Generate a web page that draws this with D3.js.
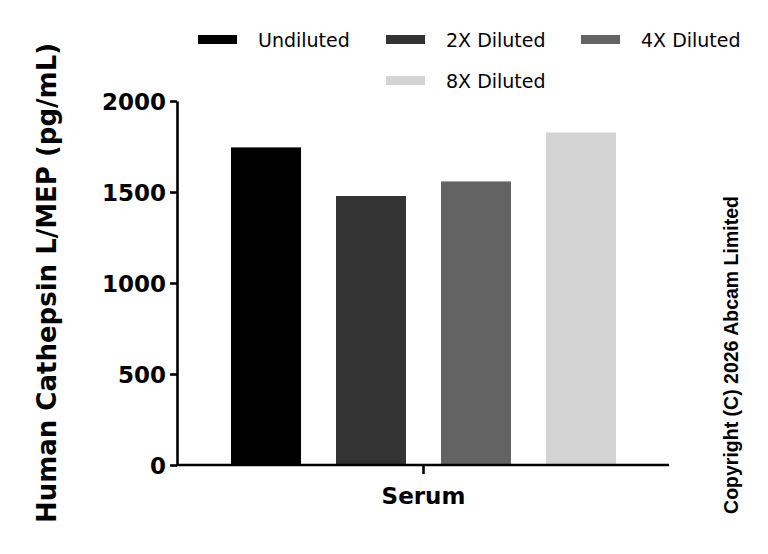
<!DOCTYPE html>
<html><head><meta charset="utf-8">
<script src="https://cdn.jsdelivr.net/npm/d3@7"></script>
<style>body{margin:0;background:#fff}svg{display:block}</style>
</head><body>
<svg id="c" width="768" height="554"></svg>
<script>
const categories = ["Serum"];
const seriesNames = ["Undiluted", "2X Diluted", "4X Diluted", "8X Diluted"];
const seriesValues = [1745, 1478, 1558, 1827];
const seriesColors = ["#000000", "#333333", "#636363", "#d4d4d4"];
const yTicks = [0, 500, 1000, 1500, 2000];
const yTitle = "Human Cathepsin L/MEP (pg/mL)";
const copyright = "Copyright (C) 2026 Abcam Limited";

const svg = d3.select("#c");
const font = "'DejaVu Sans', sans-serif";

const y = d3.scaleLinear().domain([0, 2000]).range([465, 101]);
const x0 = d3.scaleBand().domain(categories).range([178, 669]).paddingOuter(0.1377).paddingInner(0);
const x1 = d3.scaleBand().domain(seriesNames).range([0, x0.bandwidth()]).paddingInner(1/3).paddingOuter(0);

// bars
const g = svg.append("g");
categories.forEach(cat => {
  g.selectAll("rect.bar").data(seriesNames).enter().append("rect")
    .attr("x", d => x0(cat) + x1(d))
    .attr("y", (d, i) => y(seriesValues[i]))
    .attr("width", x1.bandwidth())
    .attr("height", (d, i) => y(0) - y(seriesValues[i]))
    .attr("fill", (d, i) => seriesColors[i]);
});

// y axis
const yAxis = svg.append("g").attr("transform", "translate(177,0)")
  .call(d3.axisLeft(y).tickValues(yTicks).tickSize(7).tickPadding(4).tickSizeOuter(0).tickFormat(d3.format("d")));
yAxis.select(".domain").attr("stroke", "#000").attr("stroke-width", 2.6);
yAxis.selectAll(".tick line").attr("stroke", "#000").attr("stroke-width", 2.6);
yAxis.selectAll(".tick text").attr("font-family", font).attr("font-weight", "bold")
  .attr("font-size", 23).attr("fill", "#000").attr("dy", "0.36em");

// x axis
const xAxis = svg.append("g").attr("transform", `translate(0,${y(0)})`)
  .call(d3.axisBottom(x0).tickSize(9).tickSizeOuter(0).tickPadding(14));
xAxis.select(".domain").attr("stroke", "#000").attr("stroke-width", 2.6)
  .attr("d", `M177,0H669`);
xAxis.selectAll(".tick line").attr("stroke", "#000").attr("stroke-width", 2.6);
xAxis.selectAll(".tick text").attr("font-family", font).attr("font-weight", "bold")
  .attr("font-size", 23).attr("fill", "#000");

// y title
svg.append("text")
  .attr("transform", "translate(56,283) rotate(-90)")
  .attr("text-anchor", "middle")
  .attr("font-family", font).attr("font-weight", "bold").attr("font-size", 26)
  .attr("fill", "#000")
  .text(yTitle);

// copyright
svg.append("text")
  .attr("transform", "translate(738,355) rotate(-90)")
  .attr("text-anchor", "middle")
  .attr("font-family", "'Liberation Sans', Arial, sans-serif").attr("font-weight", "bold").attr("font-size", 19.5)
  .attr("fill", "#000")
  .text(copyright);

// legend
const legendPos = [[198, 40], [386, 40], [581, 40], [386, 81]];
const lg = svg.append("g");
seriesNames.forEach((name, i) => {
  const [lx, ly] = legendPos[i];
  lg.append("rect").attr("x", lx).attr("y", ly - 5).attr("width", 39).attr("height", 9).attr("fill", seriesColors[i]);
  lg.append("text").attr("x", lx + 60).attr("y", ly).attr("dy", "0.35em")
    .attr("font-family", font).attr("font-size", 19).attr("fill", "#000").text(name);
});
</script>
</body></html>
